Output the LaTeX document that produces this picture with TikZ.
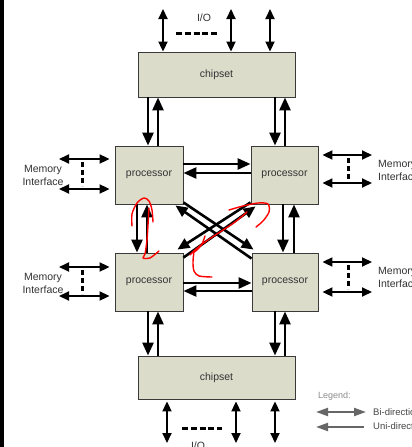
\documentclass[tikz,border=0pt]{standalone}
\usepackage{fontspec}
\setmainfont{Liberation Sans}
\usetikzlibrary{arrows.meta,calc}
\definecolor{boxfill}{HTML}{DCDCCB}
\definecolor{boxline}{HTML}{3A3A3A}
\definecolor{txt}{HTML}{333333}
\tikzset{
  unit/.style={draw=boxline, fill=boxfill, line width=0.9pt, inner sep=0pt, text=txt, font=\fontsize{10.5}{12}\selectfont},
  bus/.style={line width=2.6pt, -{Triangle[length=13pt,width=11pt]}},
  dbus/.style={line width=2.6pt, -{Triangle[length=12pt,width=10.5pt]}},
  iobus/.style={line width=2pt, {Triangle[length=10pt,width=9pt]}-{Triangle[length=10pt,width=9pt]}},
  membus/.style={line width=2pt, {Triangle[length=10pt,width=9pt]}-{Triangle[length=10pt,width=9pt]}},
  dots/.style={line width=3pt, dash pattern=on 6pt off 2.75pt},
  vdots/.style={line width=3pt, dash pattern=on 5pt off 3pt},
  lbl/.style={text=txt, font=\fontsize{10.5}{13}\selectfont, inner sep=0pt},
  legtxt/.style={anchor=west, inner sep=0pt, text=black!72, font=\fontsize{9.5}{11}\selectfont},
  legarrow/.style={black!60, line width=2pt},
  scribble/.style={red, line width=1.4pt, line cap=round, line join=round},
}
\begin{document}
\begin{tikzpicture}[x=1pt,y=-1pt]
\useasboundingbox (0,0) rectangle (412,447);
\clip (0,0) rectangle (412,447);
\fill[white] (0,0) rectangle (412,447);
\fill[black] (0,0) rectangle (4,447);

% units
\node[unit, minimum width=157pt, minimum height=45pt] (ct) at (216.5,74.5) {chipset};
\node[unit, minimum width=68pt, minimum height=58pt] (p1) at (149,175) {processor};
\node[unit, minimum width=67pt, minimum height=58pt] (p2) at (284.5,175) {processor};
\node[unit, minimum width=68pt, minimum height=58pt] (p3) at (149,282) {processor};
\node[unit, minimum width=66pt, minimum height=58pt] (p4) at (285,282) {processor};
\node[unit, minimum width=157pt, minimum height=43pt] (cb) at (216.5,377.5) {chipset};

% top I/O
\coordinate (ioa) at (163,9);
\coordinate (iob) at (231,9);
\coordinate (ioc) at (270,9);
\draw[iobus] (ioa) -- (ioa |- ct.north);
\draw[iobus] (iob) -- (iob |- ct.north);
\draw[iobus] (ioc) -- (ioc |- ct.north);
\coordinate (dsa) at (176,33);
\coordinate (dsb) at (217,33);
\draw[dots] (dsa) -- (dsb);
\node[lbl] (iotop) at (204,18) {I/O};

% bottom I/O
\coordinate (iod) at (167,443);
\coordinate (ioe) at (236,443);
\coordinate (iof) at (275,443);
\draw[iobus] (iod |- cb.south) ++(0,2) -- (iod);
\draw[iobus] (ioe |- cb.south) ++(0,2) -- (ioe);
\draw[iobus] (iof |- cb.south) ++(0,2) -- (iof);
\coordinate (dsc) at (182,428);
\coordinate (dsd) at (222,428);
\draw[dots] (dsc) -- (dsd);
\node[lbl, anchor=north] (iobot) at (198,442) {I/O};

% chipset <-> processors
\draw[bus] (148,0 |- ct.south) -- (148,0 |- p1.north);
\draw[bus] (158,0 |- p1.north) -- (158,0 |- ct.south);
\draw[bus] (275,0 |- ct.south) -- (275,0 |- p2.north);
\draw[bus] (285,0 |- p2.north) -- (285,0 |- ct.south);
\draw[bus] (148,0 |- p3.south) -- (148,0 |- cb.north);
\draw[bus] (158,0 |- cb.north) -- (158,0 |- p3.south);
\draw[bus] (275,0 |- p4.south) -- (275,0 |- cb.north);
\draw[bus] (285,0 |- cb.north) -- (285,0 |- p4.south);

% processor horizontals
\draw[bus] (p1.east |- 0,164) -- (p2.west |- 0,164);
\draw[bus] (p2.west |- 0,173) -- (p1.east |- 0,173);
\draw[bus] (p3.east |- 0,283) -- (p4.west |- 0,283);
\draw[bus] (p4.west |- 0,291) -- (p3.east |- 0,291);

% processor verticals
\draw[bus] (137,0 |- p1.south) -- (137,0 |- p3.north);
\draw[bus] (147,0 |- p3.north) -- (147,0 |- p1.south);
\draw[bus] (283,0 |- p2.south) -- (283,0 |- p4.north);
\draw[bus] (294,0 |- p4.north) -- (294,0 |- p2.south);

% diagonals
\draw[dbus] ($(p1.south east)+(0,-2)$) -- ($(p4.north west)+(2,-3)$);
\draw[dbus] ($(p4.north west)+(0,6)$) -- ($(p1.south east)+(-8,1)$);
\draw[dbus] ($(p2.south west)+(0,-2)$) -- ($(p3.north east)+(-6,-3)$);
\draw[dbus] ($(p3.north east)+(0,5)$) -- ($(p2.south west)+(5,2)$);

% memory interfaces left
\draw[membus] (59,159) coordinate (m1a) -- ($(p1.west |- 0,159)+(-5,0)$);
\draw[membus] (59,189) coordinate (m1b) -- ($(p1.west |- 0,189)+(-5,0)$);
\draw[vdots] (82,162) -- (82,186);
\node[lbl, align=center] (ml1) at (43,175.5) {Memory\\Interface};
\draw[membus] (59,267) coordinate (m3a) -- ($(p3.west |- 0,267)+(-5,0)$);
\draw[membus] (59,296) coordinate (m3b) -- ($(p3.west |- 0,296)+(-5,0)$);
\draw[vdots] (82,270) -- (82,294);
\node[lbl, align=center] (ml3) at (43,283.5) {Memory\\Interface};

% memory interfaces right
\draw[membus] ($(p2.east |- 0,155)+(4,0)$) -- (372,155) coordinate (m2a);
\draw[membus] ($(p2.east |- 0,183)+(4,0)$) -- (372,183) coordinate (m2b);
\draw[vdots] (348,158) -- (348,180);
\node[lbl, align=left, anchor=west] (ml2) at (378,170) {Memory\\Interface};
\draw[membus] ($(p4.east |- 0,262)+(4,0)$) -- (372,262) coordinate (m4a);
\draw[membus] ($(p4.east |- 0,292)+(4,0)$) -- (372,292) coordinate (m4b);
\draw[vdots] (348,265) -- (348,289);
\node[lbl, align=left, anchor=west] (ml4) at (378,277.5) {Memory\\Interface};

% legend
\node[anchor=west, inner sep=0pt, text=black!45, font=\fontsize{9}{10}\selectfont] (lg) at (318,396) {Legend:};
\coordinate (lba) at (316,412);
\coordinate (lbb) at (366,412);
\coordinate (lua) at (364,427);
\coordinate (lub) at (316,427);
\draw[legarrow, {Triangle[length=12pt,width=8pt]}-{Triangle[length=12pt,width=8pt]}] (lba) -- (lbb);
\draw[legarrow, -{Triangle[length=12pt,width=8pt]}] (lua) -- (lub);
\node[legtxt] (lgb) at (373,412) {Bi-directional};
\node[legtxt] (lgu) at (373,426) {Uni-directional};

% red hand annotations
\draw[scribble] plot[smooth] coordinates {(132,226) (132,214) (137,203) (144,198) (149,201) (152,210) (153,222)};
\draw[scribble] plot[smooth] coordinates {(149,208) (148,225) (147,240) (145,254) (143,258) (150,258) (159,251)};
\draw[scribble] plot[smooth] coordinates {(229,210) (243,206) (258,203) (268,204) (269,212) (263,221) (256,227)};
\draw[scribble] plot[smooth] coordinates {(247,212) (235,222) (220,232) (205,242) (195,250) (190,255)};
\draw[scribble] plot[smooth] coordinates {(205,236) (202,244) (197,250) (194,252)};
\draw[scribble] plot[smooth] coordinates {(194,251) (193,262) (194,271) (199,276) (212,277)};
\end{tikzpicture}
\end{document}
